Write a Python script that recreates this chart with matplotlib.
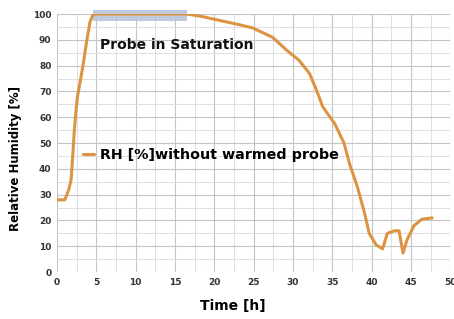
import matplotlib.pyplot as plt
import numpy as np

# values
time_h = [0, 1.0, 1.5, 1.8, 2.0, 2.2, 2.4, 2.6, 2.9, 3.3, 3.8, 4.2, 4.6, 8, 12, 16.5,
          18.5, 20.7, 23, 24.9, 27.4, 29.2, 30.8, 32.1, 33.0, 33.8, 35.3, 36.5,
          37.2, 38.2, 39.1, 39.7, 40.6, 41.4, 42.0, 42.9, 43.5, 44.0, 44.5, 45.4,
          46.4, 47.7]
rh = [28, 28, 32, 36, 45, 55, 62, 68, 73, 80, 90, 97, 100, 100, 100, 100,
      99, 97.5, 96, 94.6, 91, 86, 82, 77, 70.5, 64, 57.6, 50,
      42, 33, 23, 15, 10.5, 9, 15, 16, 16, 7.4, 12.4, 18,
      20.5, 21]

sat_start, sat_end = 4.6, 16.5
sat_low, sat_high = 97.3, 101.6

fig = plt.figure(figsize=(4.54, 3.19), dpi=100)
ax = fig.add_axes([0.1256, 0.147, 0.866, 0.809])

ax.fill_between([sat_start, sat_end], sat_low, sat_high, color='#b9c5d9',
                alpha=0.9, zorder=2, linewidth=0, clip_on=False)
ax.plot(time_h, rh, color='#dc9443', linewidth=2.2, zorder=3,
        label='RH [%]without warmed probe', solid_capstyle='round')

ax.set_xlim(0, 50)
ax.set_ylim(0, 100)
ax.set_xticks(np.arange(0, 51, 5))
ax.set_yticks(np.arange(0, 101, 10))
ax.set_xticks(np.arange(0, 51, 2.5), minor=True)
ax.set_yticks(np.arange(0, 101, 5), minor=True)
ax.grid(True, which='major', color='#c4c4c4', linewidth=0.8)
ax.grid(True, which='minor', color='#dadada', linewidth=0.6)
ax.tick_params(which='both', length=0, labelsize=6.5, colors='#333333', pad=4)
for lab in ax.get_xticklabels() + ax.get_yticklabels():
    lab.set_fontweight('bold')
for s in ax.spines.values():
    s.set_visible(False)
ax.set_axisbelow(True)

ax.set_xlabel('Time [h]', fontsize=10, fontweight='bold')
ax.xaxis.set_label_coords(0.447, -0.105)
ax.set_ylabel('Relative Humidity [%]', fontsize=8.5, fontweight='bold')
ax.yaxis.set_label_coords(-0.088, 0.44)

ax.text(5.5, 88, 'Probe in Saturation', fontsize=10, fontweight='bold',
        va='center', ha='left', color='#111111')
ax.legend(loc='center left', bbox_to_anchor=(0.065, 0.453), frameon=False,
          handlelength=0.8, handletextpad=0.4,
          prop={'weight': 'bold', 'size': 10.3}, borderaxespad=0, borderpad=0)

fig.savefig('out.png', dpi=100)
